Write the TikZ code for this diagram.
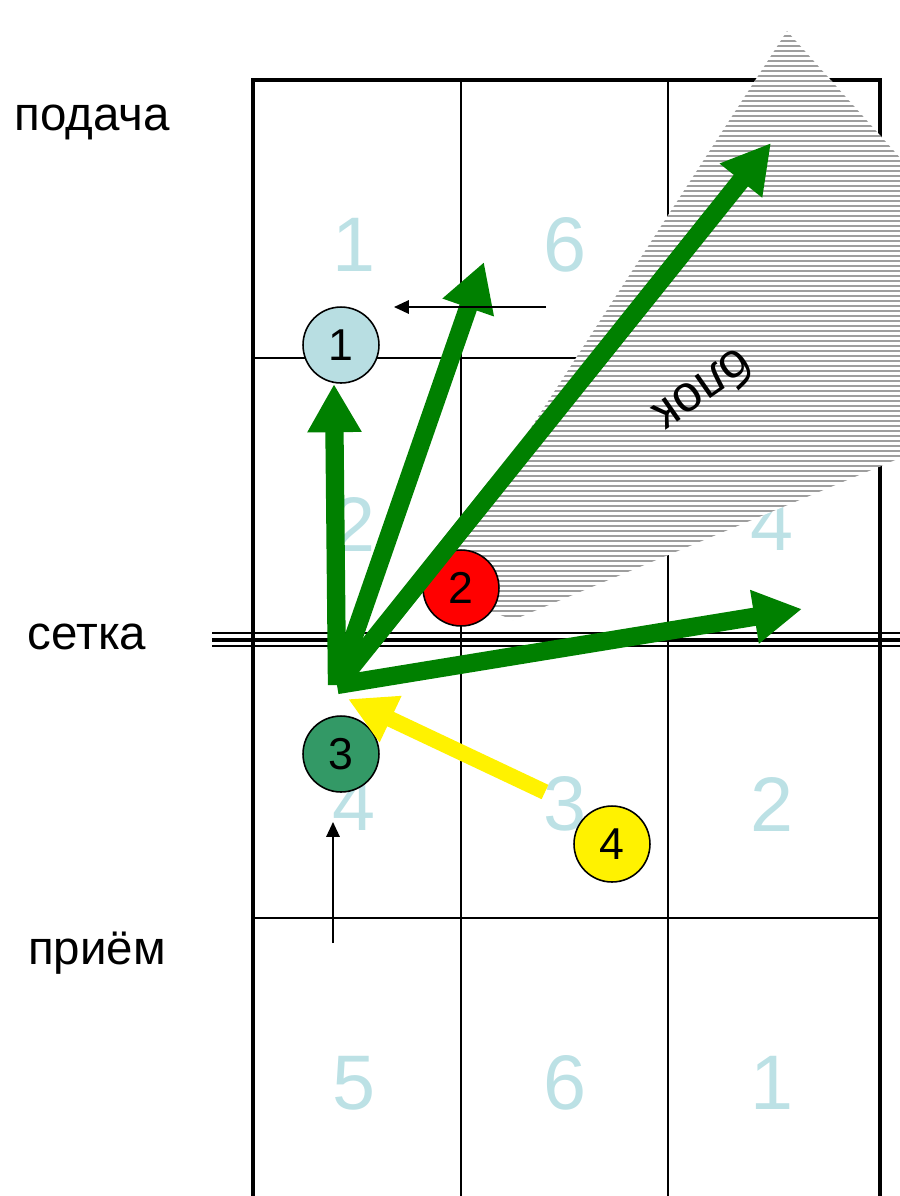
\documentclass[tikz,border=0pt]{standalone}
\usepackage{fontspec}
\setmainfont{Liberation Sans}
\usetikzlibrary{arrows.meta}
\definecolor{zonenum}{RGB}{188,225,229}
\definecolor{pone}{RGB}{184,222,226}
\definecolor{pthree}{RGB}{51,153,102}
\definecolor{hitgreen}{RGB}{0,128,0}
\tikzset{
  courtline/.style={line width=0.6pt},
  border/.style={line width=1.3pt},
  zone/.style={text=zonenum, inner sep=0pt, font=\fontsize{22}{22}\selectfont},
  player/.style={circle, draw, line width=0.45pt, minimum size=21.6pt, inner sep=0pt, font=\fontsize{12.7}{13}\selectfont},
  phase/.style={inner sep=0pt, font=\fontsize{13.5}{15}\selectfont},
  hatch/.style={line width=0.45pt, black!38},
  attack/.style={hitgreen, line width=5.2pt, -{Triangle[length=13.7pt,width=14.5pt]}},
  pass/.style={yellow, line width=4.5pt, -{Triangle[length=13.4pt,width=13.6pt]}},
  move/.style={line width=0.45pt, -{Triangle[length=4.2pt,width=3.8pt]}}
}
\begin{document}
\begin{tikzpicture}[x=0.01cm,y=-0.01cm]
  \useasboundingbox (0,0) rectangle (900,1196);
  \clip (0,0) rectangle (900,1196);
  % court
  \draw[courtline] (461,80) -- (461,1200) (668,80) -- (668,1200);
  \draw[courtline] (253,358) -- (880,358) (253,918) -- (880,918);
  \draw[border] (253,1200) -- (253,80) -- (880,80) -- (880,1200);
  % zones
  \node[zone] (z1) at (354,245) {1};
  \node[zone] (z6) at (565,245) {6};
  \node[zone] (z2) at (354,524) {2};
  \node[zone] (z4) at (772,524) {4};
  \node[zone] (zz4) at (354,804) {4};
  \node[zone] (zz3) at (565,804) {3};
  \node[zone] (zz2) at (772,804) {2};
  \node[zone] (zz5) at (354,1083) {5};
  \node[zone] (zz6) at (565,1083) {6};
  \node[zone] (zz1) at (772,1083) {1};
  % block shadow
  \begin{scope}
    \clip (787,31) -- (960,225) -- (960,445) -- (900,458) -- (513,620)
      -- (468,602) -- (452,550) -- cycle;
    \fill[white] (400,0) rectangle (960,640);
    \foreach \y in {31,36,...,625}
      \draw[hatch] (400,\y) -- (960,\y);
  \end{scope}
  \node[font=\fontsize{14.5}{15}\selectfont, inner sep=0pt, rotate=215] (blok) at (705,392) {блок};
  % net
  \draw[line width=0.8pt] (212,633) -- (900,633);
  \draw[line width=1.3pt] (212,640) -- (900,640);
  \draw[line width=0.6pt] (212,646) -- (900,646);
  % labels
  \node[phase] (serve) at (92,122) {подача};
  \node[phase] (net) at (87,637) {сетка};
  \node[phase] (recv) at (97,953) {приём};
  % players
  \node[player, fill=pone] (p1) at (341,345) {1};
  \node[player, fill=red] (p2) at (461,588) {2};
  \node[player, fill=pthree] (p3) at (341,754) {3};
  \node[player, fill=yellow] (p4) at (612,844) {4};
  % attack
  \coordinate (hit) at (337,685);
  \coordinate (t1) at (334,384);
  \coordinate (t2) at (484,262);
  \coordinate (t3) at (771,143);
  \coordinate (t4) at (802,609);
  \draw[attack] (hit) -- (t1);
  \draw[attack] (hit) -- (t2);
  \draw[attack] (hit) -- (t3);
  \draw[attack] (hit) -- (t4);
  \coordinate (set) at (545,792);
  \coordinate (ty) at (348,699);
  \draw[pass] (set) -- (ty);
  % moves
  \coordinate (m1a) at (546,307);
  \coordinate (m1b) at (394,307);
  \coordinate (m3a) at (333,943);
  \coordinate (m3b) at (333,822);
  \draw[move] (m1a) -- (m1b);
  \draw[move] (m3a) -- (m3b);
\end{tikzpicture}
\end{document}
